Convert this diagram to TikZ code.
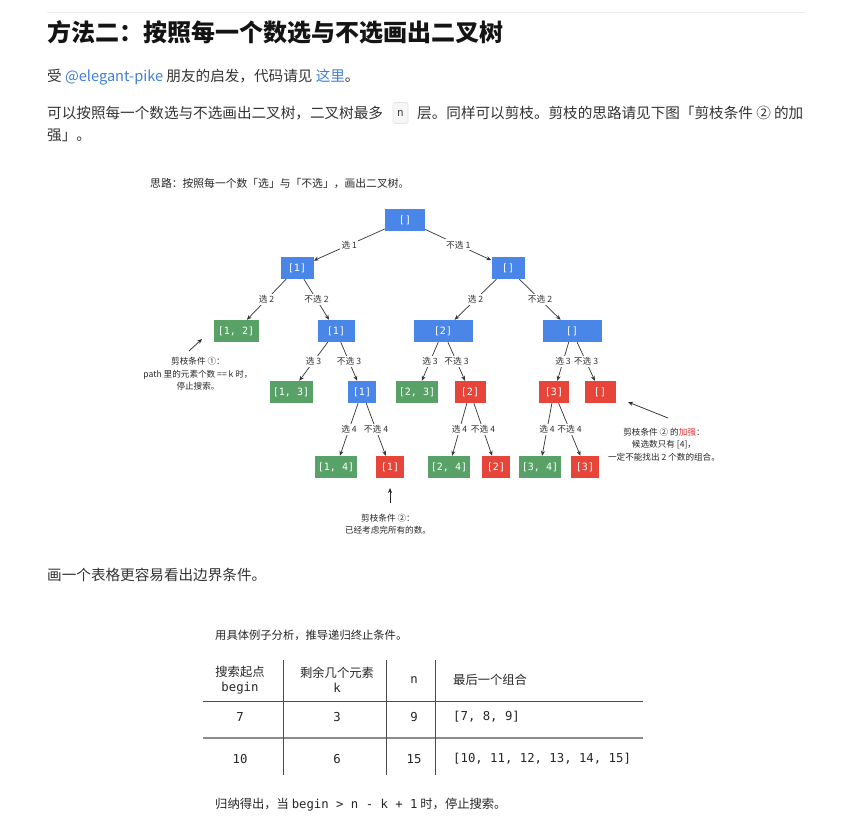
\documentclass[tikz,border=0pt]{standalone}
\usepackage{fontspec}
\setmainfont{Noto Sans CJK SC}
\newfontfamily\codefont{DejaVu Sans Mono}
\usetikzlibrary{arrows.meta}
\definecolor{treeblue}{RGB}{74,134,232}
\definecolor{treegreen}{RGB}{88,162,103}
\definecolor{treered}{RGB}{231,68,58}
\definecolor{linkblue}{RGB}{64,128,214}
\definecolor{bodytext}{RGB}{51,51,51}
\definecolor{hlred}{RGB}{232,48,48}
\definecolor{rulegray}{RGB}{234,236,239}
\definecolor{codebg}{RGB}{246,246,247}
\definecolor{codeline}{RGB}{226,228,231}
\tikzset{treebox/.style={rectangle, minimum height=22pt, inner sep=0pt, text=white, font=\codefont\fontsize{10}{12}\selectfont}, bluebox/.style={treebox, fill=treeblue}, greenbox/.style={treebox, fill=treegreen}, redbox/.style={treebox, fill=treered}, edge/.style={-{Stealth[length=5pt,width=4pt]}, draw=black!80, line width=0.7pt}, elabel/.style={fill=white, inner sep=1.5pt, text=black!80, font=\fontsize{8.7}{10}\selectfont}, notetext/.style={align=center, inner sep=0pt, text=black!85, font=\fontsize{8.6}{12.3}\selectfont}, notearrow/.style={-{Stealth[length=5pt,width=4pt]}, draw=black!85, line width=0.7pt}, bodyline/.style={anchor=west, inner sep=0pt, text=bodytext, font=\fontsize{14.6}{18}\selectfont}, tabcell/.style={align=center, inner sep=0pt, text=black!85, font=\fontsize{12.3}{15}\selectfont}, tabrule/.style={draw=black!70, line width=0.9pt}}

\begin{document}
\begin{tikzpicture}[x=1pt,y=-1pt]
\fill[white] (0,0) rectangle (853,836);
\useasboundingbox (0,0) rectangle (853,836);
\draw[rulegray, line width=1pt] (47,12) -- (806,12);
\node[anchor=west, inner sep=0pt, text=black!92, font=\bfseries\fontsize{24}{28}\selectfont] (title) at (47,32) {方法二：按照每一个数选与不选画出二叉树};
\node[bodyline] (credit) at (47,77) {受 \textcolor{linkblue}{@elegant-pike} 朋友的启发，代码请见 \textcolor{linkblue}{这里}。};
\node[bodyline] (introa) at (47,113) {可以按照每一个数选与不选画出二叉树，二叉树最多};
\node[rectangle, rounded corners=2pt, fill=codebg, draw=codeline, line width=0.6pt, minimum width=15pt, minimum height=21pt, inner sep=0pt, text=black!75, font=\codefont\fontsize{11}{13}\selectfont] (codebox) at (400.5,113) {n};
\node[bodyline] (introb) at (417,113) {层。同样可以剪枝。剪枝的思路请见下图「剪枝条件 ② 的加};
\node[bodyline] (introc) at (47,135) {强」。};

\node[anchor=west, inner sep=0pt, text=black!85, font=\fontsize{10.8}{12}\selectfont] (caption) at (150,184) {思路：按照每一个数「选」与「不选」，画出二叉树。};
\node[bluebox, minimum width=40pt] (root) at (405,220) {[]};
\node[bluebox, minimum width=33pt] (a) at (297,268) {[1]};
\node[bluebox, minimum width=33pt] (b) at (508,268) {[]};
\node[greenbox, minimum width=45pt] (aa) at (236,331) {[1, 2]};
\node[bluebox, minimum width=37pt] (ab) at (336,331) {[1]};
\node[bluebox, minimum width=59pt] (ba) at (443,331) {[2]};
\node[bluebox, minimum width=59pt] (bb) at (572,331) {[]};
\node[greenbox, minimum width=43pt] (aba) at (291,392) {[1, 3]};
\node[bluebox, minimum width=28pt] (abb) at (362,392) {[1]};
\node[greenbox, minimum width=42pt] (baa) at (417,392) {[2, 3]};
\node[redbox, minimum width=31pt] (bab) at (470,392) {[2]};
\node[redbox, minimum width=30pt] (bba) at (554,392) {[3]};
\node[redbox, minimum width=31pt] (bbb) at (600,392) {[]};
\node[greenbox, minimum width=42pt] (abba) at (336,467) {[1, 4]};
\node[redbox, minimum width=28pt] (abbb) at (390,467) {[1]};
\node[greenbox, minimum width=42pt] (baba) at (449,467) {[2, 4]};
\node[redbox, minimum width=28pt] (babb) at (496,467) {[2]};
\node[greenbox, minimum width=42pt] (bbaa) at (540,467) {[3, 4]};
\node[redbox, minimum width=28pt] (bbab) at (585,467) {[3]};
\foreach \p/\c/\t in {root/a/{选 1}, root/b/{不选 1}, a/aa/{选 2}, a/ab/{不选 2}, b/ba/{选 2}, b/bb/{不选 2}, ab/aba/{选 3}, ab/abb/{不选 3}, ba/baa/{选 3}, ba/bab/{不选 3}, bb/bba/{选 3}, bb/bbb/{不选 3}, abb/abba/{选 4}, abb/abbb/{不选 4}, bab/baba/{选 4}, bab/babb/{不选 4}, bba/bbaa/{选 4}, bba/bbab/{不选 4}} {\draw[edge] (\p) -- node[elabel] {\t} (\c);}

\node[notetext] (noteone) at (198,374) {剪枝条件 ①：\\path 里的元素个数 == k 时，\\停止搜索。};
\coordinate (noteonetail) at (189,351);
\coordinate (noteonetip) at (202,339);
\draw[notearrow] (noteonetail) -- (noteonetip);
\node[notetext] (notetwo) at (388,524) {剪枝条件 ②：\\已经考虑完所有的数。};
\coordinate (notetwotail) at (390,503);
\coordinate (notetwotip) at (390,488);
\draw[notearrow] (notetwotail) -- (notetwotip);
\node[notetext] (notethree) at (664,444.5) {剪枝条件 ② 的\textcolor{hlred}{加强}：\\候选数只有 [4]，\\一定不能找出 2 个数的组合。};
\coordinate (notethreetail) at (668,418);
\coordinate (notethreetip) at (628,402);
\draw[notearrow] (notethreetail) -- (notethreetip);

\node[bodyline] (tablelead) at (47,575) {画一个表格更容易看出边界条件。};
\node[anchor=west, inner sep=0pt, text=black!85, font=\fontsize{11.3}{13}\selectfont] (tabletitle) at (215,635) {用具体例子分析，推导递归终止条件。};
\node[tabcell] (headbegin) at (240,680) {搜索起点\\{\codefont begin}};
\node[tabcell] (headk) at (337,680) {剩余几个元素\\{\codefont k}};
\node[tabcell, font=\codefont\fontsize{12.3}{15}\selectfont] (headn) at (414,680) {n};
\node[tabcell, anchor=west] (headlast) at (453,680) {最后一个组合};
\foreach \r/\y/\vb/\vk/\vn/\vl in {one/717/7/3/9/{[7, 8, 9]}, two/759/10/6/15/{[10, 11, 12, 13, 14, 15]}} {
  \node[tabcell, font=\codefont\fontsize{12.3}{15}\selectfont] (begin\r) at (240,\y) {\vb};
  \node[tabcell, font=\codefont\fontsize{12.3}{15}\selectfont] (k\r) at (337,\y) {\vk};
  \node[tabcell, font=\codefont\fontsize{12.3}{15}\selectfont] (n\r) at (414,\y) {\vn};
  \node[tabcell, anchor=west, font=\codefont\fontsize{12.3}{15}\selectfont] (last\r) at (453,\y) {\vl};
}
\draw[tabrule] (203,701) -- (643,701);
\draw[tabrule, draw=black!45, line width=1.8pt] (203,738) -- (643,738);
\foreach \x in {283,386,435} {\draw[tabrule] (\x,660) -- (\x,775);}
\node[anchor=west, inner sep=0pt, text=black!85, font=\fontsize{12.3}{15}\selectfont] (summary) at (215,805) {归纳得出，当 {\codefont begin > n - k + 1} 时，停止搜索。};
\end{tikzpicture}
\end{document}
